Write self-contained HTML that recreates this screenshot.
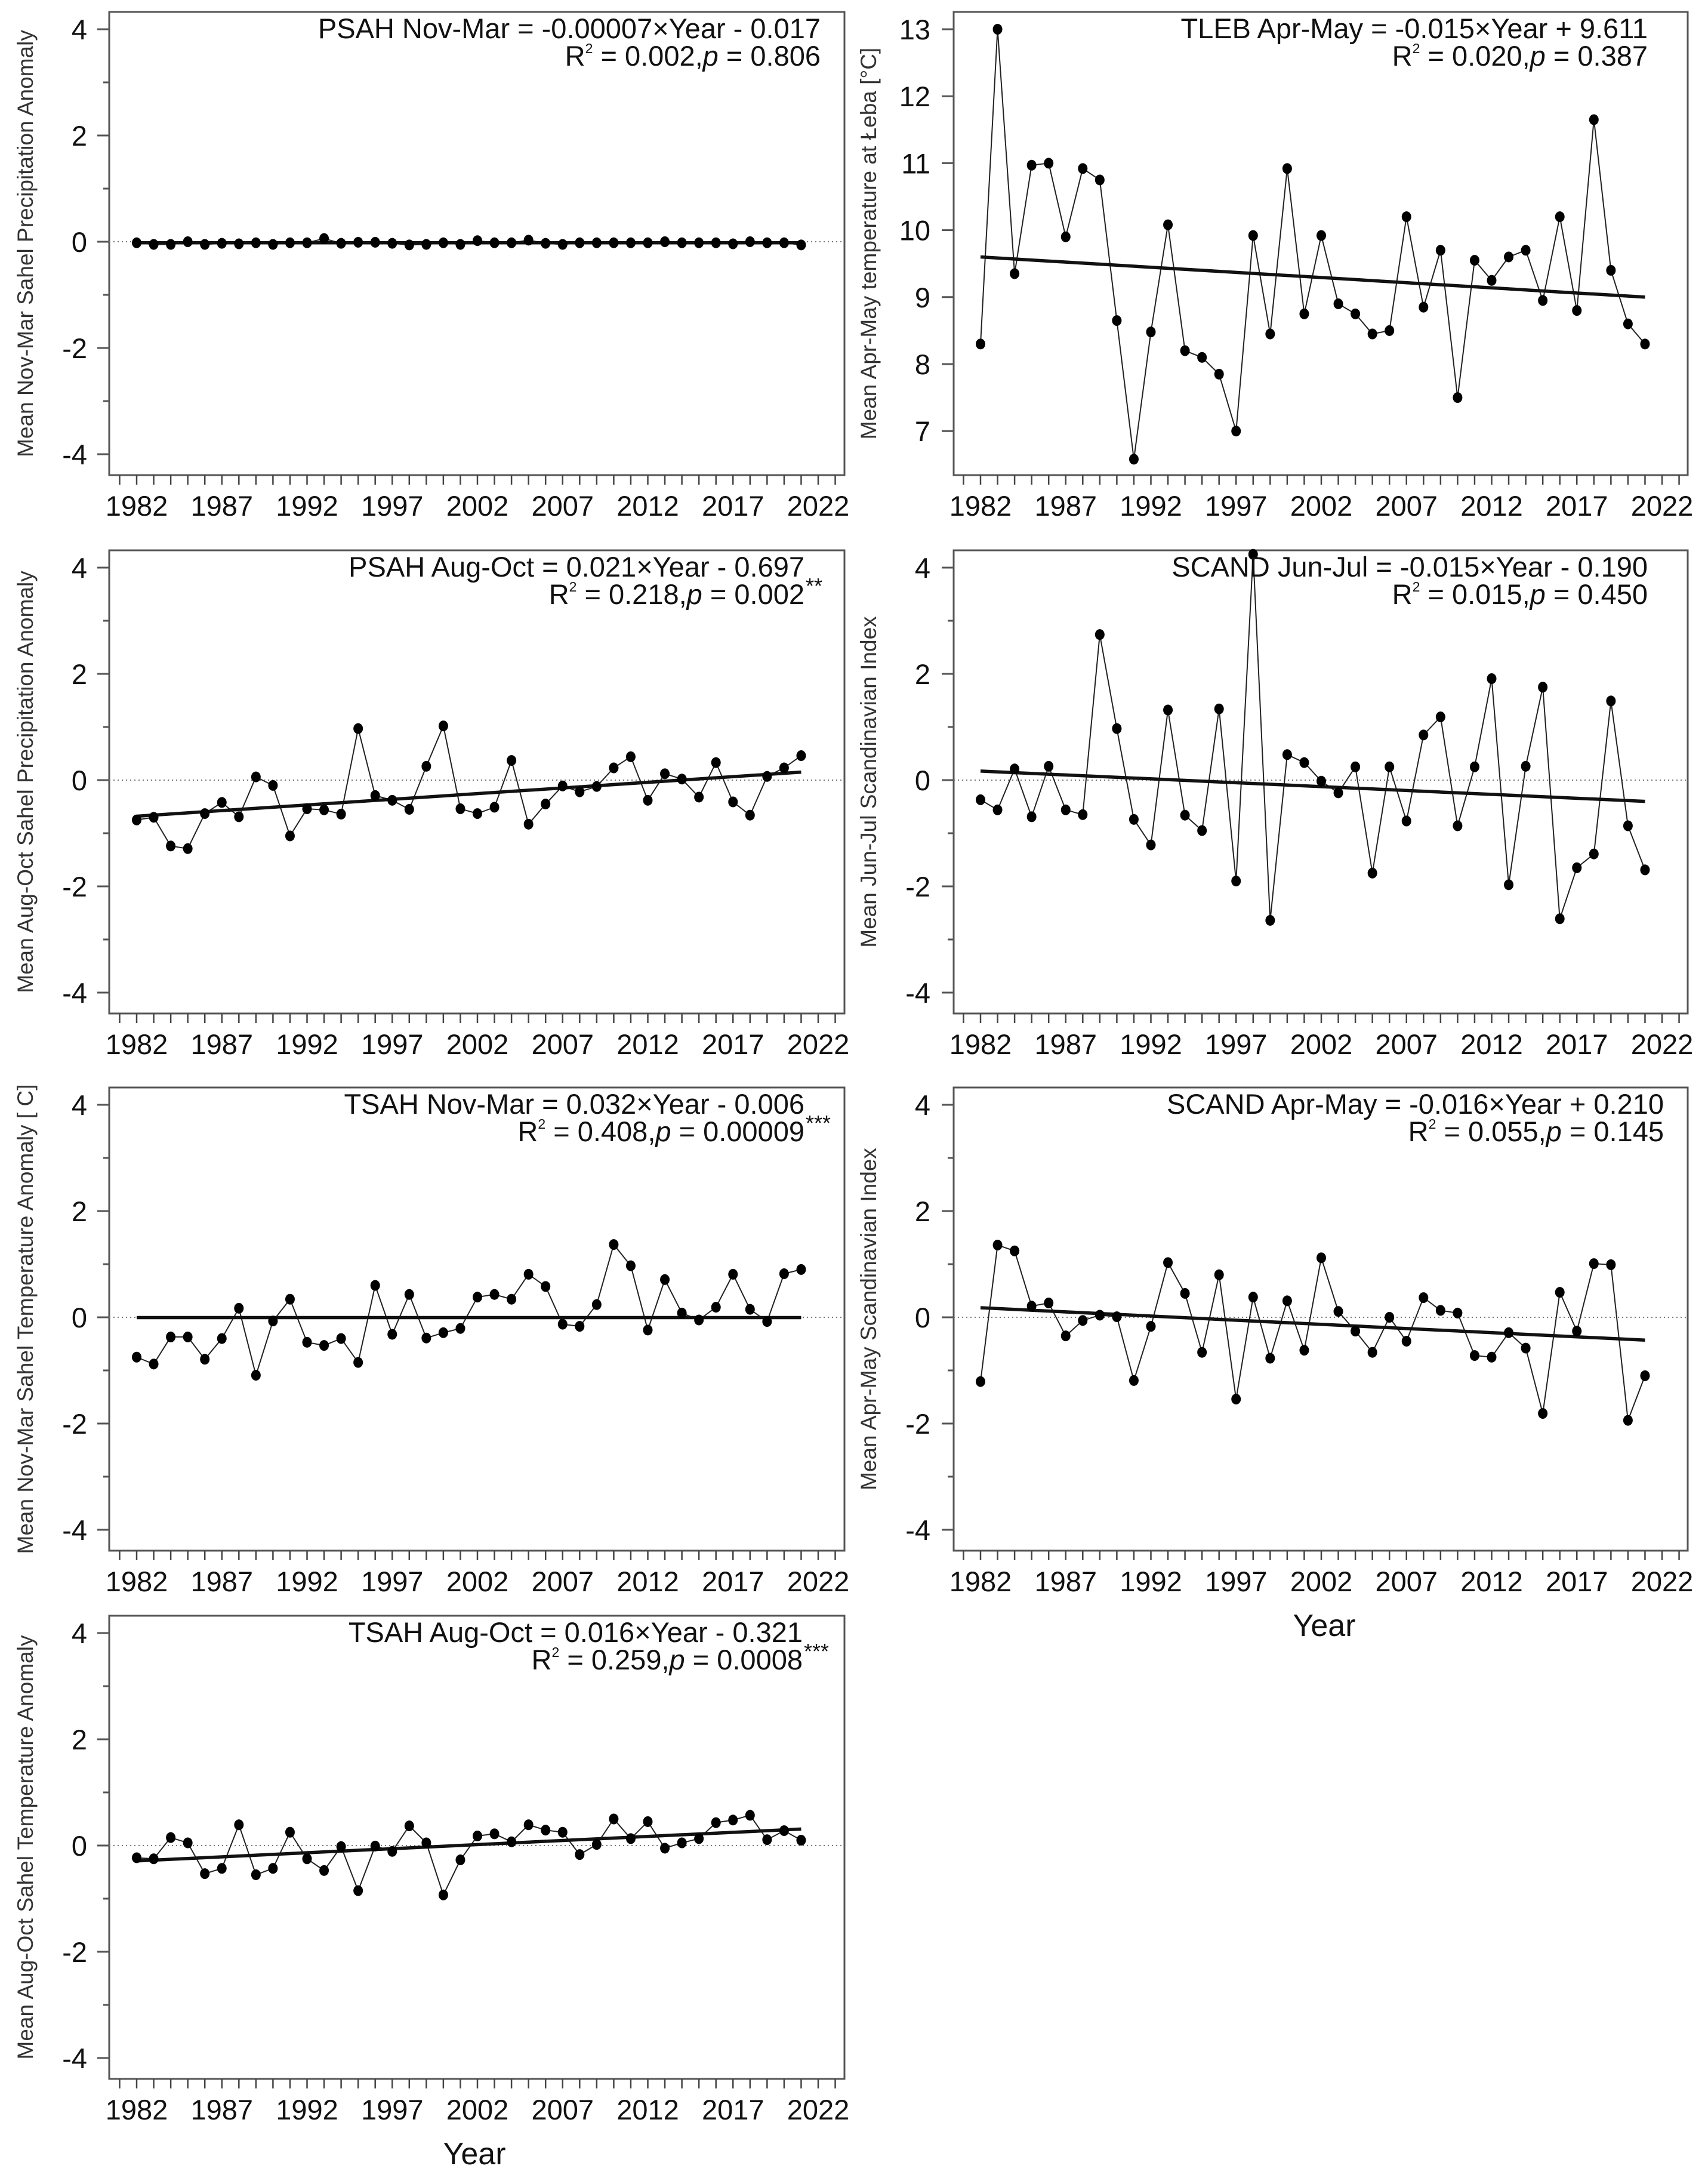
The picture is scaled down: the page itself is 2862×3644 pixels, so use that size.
<!DOCTYPE html>
<html><head><meta charset="utf-8"><style>
html,body{margin:0;padding:0;background:#fff;}
svg{display:block;}
text{font-family:"Liberation Sans Narrow","Liberation Sans",sans-serif;fill:#111;}
.yt{font-family:"Liberation Sans",sans-serif;fill:#333;font-size:37px;}
</style></head><body>
<svg id="fig" xmlns="http://www.w3.org/2000/svg" width="2862" height="3644" viewBox="0 0 2862 3644"></svg>
<script>
const years = [];
for (let y = 1982; y <= 2021; y++) years.push(y);
const xTickLabels = ["1982","1987","1992","1997","2002","2007","2012","2017","2022"];
const anomTicks = [-4,-2,0,2,4];
const tlebTicks = [7,8,9,10,11,12,13];

const psahNovMar = [-0.02,-0.05,-0.05,0.0,-0.05,-0.03,-0.04,-0.02,-0.05,-0.02,-0.02,0.06,-0.03,-0.01,-0.01,-0.03,-0.06,-0.05,-0.02,-0.05,0.02,-0.02,-0.02,0.03,-0.03,-0.05,-0.02,-0.02,-0.02,-0.02,-0.02,0.0,-0.02,-0.02,-0.02,-0.04,0.0,-0.02,-0.02,-0.06];
const psahNovMarTrend = [-0.02,-0.02];
const tlebAprMay = [8.3,13.0,9.35,10.97,11.0,9.9,10.92,10.75,8.65,6.58,8.48,10.08,8.2,8.1,7.85,7.0,9.92,8.45,10.92,8.75,9.92,8.9,8.75,8.45,8.5,10.2,8.85,9.7,7.5,9.55,9.25,9.6,9.7,8.95,10.2,8.8,11.65,9.4,8.6,8.3];
const tlebTrend = [9.6,9.0];
const psahAugOct = [-0.75,-0.7,-1.24,-1.29,-0.63,-0.42,-0.69,0.06,-0.1,-1.05,-0.54,-0.56,-0.64,0.97,-0.29,-0.38,-0.55,0.26,1.02,-0.54,-0.63,-0.51,0.37,-0.83,-0.45,-0.11,-0.22,-0.12,0.23,0.44,-0.38,0.12,0.02,-0.32,0.33,-0.41,-0.66,0.07,0.23,0.46];
const psahAugOctTrend = [-0.68,0.15];
const scandJunJul = [-0.37,-0.56,0.21,-0.69,0.26,-0.56,-0.65,2.74,0.97,-0.74,-1.22,1.32,-0.66,-0.95,1.34,-1.9,4.25,-2.64,0.48,0.33,-0.02,-0.24,0.25,-1.75,0.25,-0.77,0.85,1.19,-0.86,0.25,1.91,-1.97,0.26,1.75,-2.61,-1.65,-1.39,1.49,-0.86,-1.69];
const scandJunJulTrend = [0.17,-0.4];
const tsahNovMar = [-0.75,-0.88,-0.37,-0.37,-0.79,-0.4,0.17,-1.09,-0.07,0.34,-0.47,-0.53,-0.4,-0.85,0.6,-0.32,0.43,-0.39,-0.29,-0.21,0.38,0.43,0.34,0.81,0.58,-0.13,-0.17,0.24,1.37,0.97,-0.24,0.71,0.08,-0.05,0.19,0.81,0.15,-0.08,0.82,0.9];
const tsahNovMarTrend = [-0.006,-0.006];
const scandAprMay = [-1.21,1.36,1.25,0.21,0.27,-0.35,-0.06,0.04,0.01,-1.19,-0.17,1.03,0.45,-0.66,0.8,-1.54,0.38,-0.77,0.31,-0.62,1.12,0.11,-0.26,-0.66,0.0,-0.45,0.37,0.13,0.08,-0.72,-0.75,-0.29,-0.58,-1.81,0.47,-0.26,1.01,0.99,-1.94,-1.1];
const scandAprMayTrend = [0.18,-0.43];
const tsahAugOct = [-0.23,-0.25,0.15,0.05,-0.53,-0.43,0.39,-0.55,-0.43,0.25,-0.25,-0.47,-0.02,-0.85,-0.01,-0.11,0.37,0.05,-0.93,-0.27,0.18,0.22,0.07,0.39,0.29,0.25,-0.17,0.02,0.5,0.13,0.45,-0.05,0.05,0.13,0.43,0.48,0.57,0.11,0.28,0.1];
const tsahAugOctTrend = [-0.29,0.31];

const NS = "http://www.w3.org/2000/svg";
const svg = document.getElementById("fig");
function mk(tag, attrs, parent) {
  const e = document.createElementNS(NS, tag);
  for (const k in attrs) e.setAttribute(k, attrs[k]);
  (parent || svg).appendChild(e);
  return e;
}
const cols = [{L:183,R:1415,x0:229,yt:55,tl:146},{L:1598,R:2828,x0:1643,yt:1468,tl:1559}];
const rowTops = [20,922,1822,2707];
const FH = 776, PPY = 28.55;

function panel(o) {
  const c = cols[o.col], top = rowTops[o.row];
  const g = mk("g", {});
  
  
  const xs = yr => c.x0 + (yr - 1982) * PPY;
  const ys = v => top + 29 + (o.ymax - v) * o.ppu;
  const fr = mk("rect", {x:c.L, y:top, width:c.R-c.L, height:FH, fill:"none", stroke:"#555", "stroke-width":3}, g);
  
  
  for (let yr = 1981; yr <= 2023; yr++) {
    const t = mk("line", {x1:xs(yr), x2:xs(yr), y1:top+FH, y2:top+FH+16, stroke:"#444", "stroke-width":2.5}, g);
    
    
  }
  xTickLabels.forEach(l => {
    const t = mk("text", {x:xs(+l), y:top+844, "text-anchor":"middle", "font-size":47}, g);
    t.textContent = l;
    
    
  });
  o.ticks.forEach(v => {
    const t = mk("line", {x1:c.L-20, x2:c.L, y1:ys(v), y2:ys(v), stroke:"#555", "stroke-width":3}, g);
    
    
    const l = mk("text", {x:c.tl, y:ys(v)+17, "text-anchor":"end", "font-size":47}, g);
    l.textContent = String(v);
    
    
  });
  (o.minor || []).forEach(v => {
    const t = mk("line", {x1:c.L-10, x2:c.L, y1:ys(v), y2:ys(v), stroke:"#555", "stroke-width":3}, g);
    
    
  });
  const cy = top + FH/2;
  const yt = mk("text", {x:c.yt, y:cy, "text-anchor":"middle", "class":"yt", transform:`rotate(-90 ${c.yt} ${cy})`}, g);
  yt.textContent = o.ytitle;
  
  
  if (o.zero) {
    const z = mk("line", {x1:c.L, x2:c.R, y1:ys(0), y2:ys(0), stroke:"#777", "stroke-width":2, "stroke-dasharray":"2 5"}, g);
    
    
  }
  const pts = o.data.map((v,i) => xs(years[i]) + "," + ys(v)).join(" ");
  const pl = mk("polyline", {points:pts, fill:"none", stroke:"#222", "stroke-width":2}, g);
  
  
  const tr = mk("line", {x1:xs(years[0]), x2:xs(years[years.length-1]), y1:ys(o.trend[0]), y2:ys(o.trend[1]), stroke:"#111", "stroke-width":5.5}, g);
  
  
  o.data.forEach((v,i) => {
    const p = mk("ellipse", {cx:xs(years[i]), cy:ys(v), rx:8, ry:9, fill:"#000"}, g);
    
    
  });
  const a1 = mk("text", {x:o.ax, y:top+44, "text-anchor":"end", "font-size":47}, g);
  a1.textContent = o.eq;
  
  
  const a2 = mk("text", {x:o.ax, y:top+90, "text-anchor":"end", "font-size":47}, g);
  
  
  a2.innerHTML = `R<tspan font-size="23" dy="-21">2</tspan><tspan dy="21"> = ${o.r2},</tspan><tspan font-style="italic">p</tspan> = ${o.p}`;
  if (o.stars) {
    const s = mk("text", {x:o.ax+2, y:top+72, "font-size":36}, g);
    s.textContent = o.stars;
    
    
  }
}
const anomMinor = [-3,-1,1,3];
panel({name:"panel-psah-nov-mar", col:0,row:0,ymax:4,ppu:89,ticks:anomTicks,minor:anomMinor,zero:true,data:psahNovMar,trend:psahNovMarTrend,
  ytitle:"Mean Nov-Mar Sahel Precipitation Anomaly", eq:"PSAH Nov-Mar = -0.00007×Year - 0.017", r2:"0.002", p:"0.806", ax:1375});
panel({name:"panel-tleb-apr-may", col:1,row:0,ymax:13,ppu:112.2,ticks:tlebTicks,zero:false,data:tlebAprMay,trend:tlebTrend,
  ytitle:"Mean Apr-May temperature at Łeba [°C]", eq:"TLEB Apr-May = -0.015×Year + 9.611", r2:"0.020", p:"0.387", ax:2761});
panel({name:"panel-psah-aug-oct", col:0,row:1,ymax:4,ppu:89,ticks:anomTicks,minor:anomMinor,zero:true,data:psahAugOct,trend:psahAugOctTrend,
  ytitle:"Mean Aug-Oct Sahel Precipitation Anomaly", eq:"PSAH Aug-Oct = 0.021×Year - 0.697", r2:"0.218", p:"0.002", ax:1348, stars:"**"});
panel({name:"panel-scand-jun-jul", col:1,row:1,ymax:4,ppu:89,ticks:anomTicks,minor:anomMinor,zero:true,data:scandJunJul,trend:scandJunJulTrend,
  ytitle:"Mean Jun-Jul Scandinavian Index", eq:"SCAND Jun-Jul = -0.015×Year - 0.190", r2:"0.015", p:"0.450", ax:2761});
panel({name:"panel-tsah-nov-mar", col:0,row:2,ymax:4,ppu:89,ticks:anomTicks,minor:anomMinor,zero:true,data:tsahNovMar,trend:tsahNovMarTrend,
  ytitle:"Mean Nov-Mar Sahel Temperature Anomaly [ C]", eq:"TSAH Nov-Mar = 0.032×Year - 0.006", r2:"0.408", p:"0.00009", ax:1348, stars:"***"});
panel({name:"panel-scand-apr-may", col:1,row:2,ymax:4,ppu:89,ticks:anomTicks,minor:anomMinor,zero:true,data:scandAprMay,trend:scandAprMayTrend,
  ytitle:"Mean Apr-May Scandinavian Index", eq:"SCAND Apr-May = -0.016×Year + 0.210", r2:"0.055", p:"0.145", ax:2788});
panel({name:"panel-tsah-aug-oct", col:0,row:3,ymax:4,ppu:89,ticks:anomTicks,minor:anomMinor,zero:true,data:tsahAugOct,trend:tsahAugOctTrend,
  ytitle:"Mean Aug-Oct Sahel Temperature Anomaly", eq:"TSAH Aug-Oct = 0.016×Year - 0.321", r2:"0.259", p:"0.0008", ax:1345, stars:"***"});

const yl1 = mk("text", {x:795, y:3626, "text-anchor":"middle", "font-size":52});
yl1.textContent = "Year";


const yl2 = mk("text", {x:2219, y:2741, "text-anchor":"middle", "font-size":52});
yl2.textContent = "Year";


</script>
</body></html>
